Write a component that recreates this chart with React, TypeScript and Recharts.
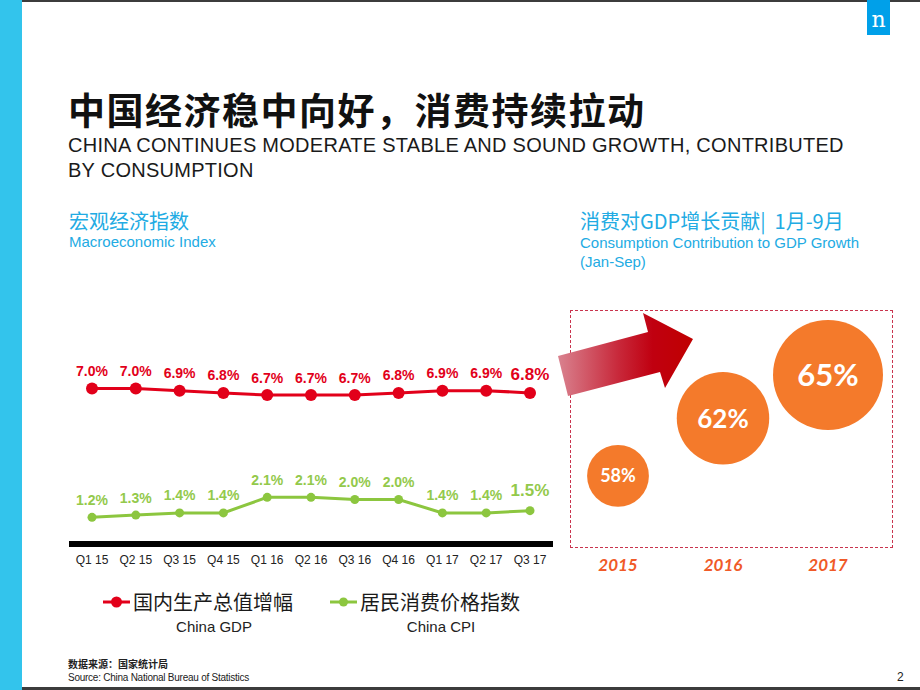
import React from 'react'
import {
  LineChart, Line, XAxis, YAxis, LabelList, ScatterChart, Scatter, ZAxis
} from 'recharts'

const quarters = ['Q1 15', 'Q2 15', 'Q3 15', 'Q4 15', 'Q1 16', 'Q2 16', 'Q3 16', 'Q4 16', 'Q1 17', 'Q2 17', 'Q3 17']
const gdpGrowth = [7.0, 7.0, 6.9, 6.8, 6.7, 6.7, 6.7, 6.8, 6.9, 6.9, 6.8]
const cpiGrowth = [1.2, 1.3, 1.4, 1.4, 2.1, 2.1, 2.0, 2.0, 1.4, 1.4, 1.5]

const years = [2015, 2016, 2017]
const contribution = [58, 62, 65]

const RED = '#e2001a'
const GREEN = '#8cc63f'
const BLUE = '#22abe3'
const ORANGE = '#f47a2b'
const SANS = '"Liberation Sans", Arial, sans-serif'
const CJK = '"Noto Sans CJK SC", sans-serif'

const lineData = quarters.map((q, i) => ({ q, gdp: gdpGrowth[i], cpi: cpiGrowth[i] }))
const bubbleData = years.map((year, i) => ({ year, value: contribution[i] }))

const box = (p: any) => {
  const vb = p.viewBox || p
  return { x: vb.x + (vb.width || 0) / 2, y: vb.y + (vb.height || 0) / 2 }
}

const pointLabel = (color: string, lift: number, liftLast: number) => (props: any) => {
  const { x, y } = box(props)
  const last = props.index === quarters.length - 1
  return (
    <text x={x} y={y - (last ? liftLast : lift)} textAnchor="middle" fill={color}
      fontSize={last ? 17 : 14} fontWeight="bold" fontFamily={SANS}>
      {Number(props.value).toFixed(1)}%
    </text>
  )
}

const bubbleLabel = (props: any) => {
  const vb = props.viewBox || props
  const { x, y } = box(props)
  const fs = Math.round((vb.width || 60) * 0.285)
  return (
    <text x={x} y={y} dy={fs * 0.36} textAnchor="middle" fill="#fff"
      fontSize={fs} fontWeight="bold" fontFamily="Lato, sans-serif">
      {props.value}%
    </text>
  )
}

const LegendItem = ({ color, zh, en, left }: { color: string; zh: string; en: string; left: number }) => (
  <div style={{ position: 'absolute', left, top: 588, width: 200 }}>
    <svg width={28} height={28} style={{ position: 'absolute', left: 0, top: 0 }}>
      <line x1={0} x2={27} y1={14} y2={14} stroke={color} strokeWidth={3} />
      <circle cx={13.5} cy={14} r={color === RED ? 5.5 : 4.5} fill={color} />
    </svg>
    <div style={{ position: 'absolute', left: 30, top: 0, fontFamily: CJK, fontSize: 20, lineHeight: '28px', color: '#1a1a1a', whiteSpace: 'nowrap' }}>{zh}</div>
    <div style={{ position: 'absolute', left: 30, top: 30, width: 162, textAlign: 'center', fontFamily: SANS, fontSize: 15, lineHeight: '18px', color: '#222' }}>{en}</div>
  </div>
)

export default function App() {
  return (
    <div style={{ position: 'absolute', left: 0, top: 0, width: 920, height: 690, background: '#fff', overflow: 'hidden' }}>
      <div style={{ position: 'absolute', left: 0, top: 0, width: 22, height: 690, background: '#33c4ec' }} />
      <div style={{ position: 'absolute', left: 22, top: 0, width: 898, height: 2, background: '#3c3c3c' }} />
      <div style={{ position: 'absolute', left: 22, top: 687, width: 898, height: 3, background: '#3c3c3c' }} />
      <div style={{ position: 'absolute', left: 867, top: 0, width: 23, height: 35, background: '#00a0e9', color: '#fff', fontFamily: '"DejaVu Serif", serif', fontSize: 22, lineHeight: '40px', textAlign: 'center' }}>n</div>

      <div style={{ position: 'absolute', left: 68, top: 89, fontFamily: CJK, fontWeight: 'bold', fontSize: 37, lineHeight: '40px', letterSpacing: 1.5, color: '#111', whiteSpace: 'nowrap' }}>
        中国经济稳中向好，消费持续拉动
      </div>
      <div style={{ position: 'absolute', left: 68, top: 132.5, fontFamily: SANS, fontSize: 20, lineHeight: '25px', letterSpacing: 0.27, color: '#1a1a1a', whiteSpace: 'nowrap' }}>
        CHINA CONTINUES MODERATE STABLE AND SOUND GROWTH, CONTRIBUTED<br />BY CONSUMPTION
      </div>

      <div style={{ position: 'absolute', left: 69, top: 210, fontFamily: CJK, fontSize: 20, lineHeight: '22px', color: BLUE }}>宏观经济指数</div>
      <div style={{ position: 'absolute', left: 69, top: 233, fontFamily: SANS, fontSize: 15, lineHeight: '18px', color: BLUE }}>Macroeconomic Index</div>
      <div style={{ position: 'absolute', left: 580, top: 210, fontFamily: CJK, fontSize: 20, lineHeight: '22px', color: BLUE, whiteSpace: 'nowrap' }}>消费对GDP增长贡献|&nbsp; 1月-9月</div>
      <div style={{ position: 'absolute', left: 580, top: 233, fontFamily: SANS, fontSize: 15, lineHeight: '19px', color: BLUE, whiteSpace: 'nowrap' }}>
        Consumption Contribution to GDP Growth<br />(Jan-Sep)
      </div>

      <div style={{ position: 'absolute', left: 0, top: 300 }}>
        <LineChart width={570} height={290} data={lineData} margin={{ top: 44, right: 17, left: 69, bottom: 16 }}>
          <XAxis dataKey="q" height={30} interval={0} padding={{ left: 23, right: 23 }}
            axisLine={{ stroke: '#000', strokeWidth: 6 }} tickLine={false} tickMargin={5.5}
            tick={{ fill: '#222', fontSize: 12, fontFamily: SANS }} />
          <YAxis hide domain={[0, 9]} />
          <Line dataKey="gdp" stroke={RED} strokeWidth={3} isAnimationActive={false} activeDot={false}
            dot={{ r: 6, fill: RED, stroke: RED, strokeWidth: 0 }}>
            <LabelList dataKey="gdp" content={pointLabel(RED, 12.5, 13)} />
          </Line>
          <Line dataKey="cpi" stroke={GREEN} strokeWidth={3} isAnimationActive={false} activeDot={false}
            dot={{ r: 4.5, fill: GREEN, stroke: GREEN, strokeWidth: 0 }}>
            <LabelList dataKey="cpi" content={pointLabel('#93c94b', 12.5, 14.5)} />
          </Line>
        </LineChart>
      </div>

      <LegendItem color={RED} zh="国内生产总值增幅" en="China GDP" left={103} />
      <LegendItem color={GREEN} zh="居民消费价格指数" en="China CPI" left={330} />

      <div style={{ position: 'absolute', left: 570, top: 310, width: 323, height: 238, boxSizing: 'border-box', border: '1px dashed #c9344e' }} />

      <div style={{ position: 'absolute', left: 560, top: 300 }}>
        <ScatterChart width={350} height={290} margin={{ top: 10, right: 29.5, left: 5.5, bottom: 12 }}>
          <XAxis type="number" dataKey="year" domain={[2014.5, 2017.5]} ticks={years} height={30}
            axisLine={false} tickLine={false} tickMargin={5}
            tick={{ fill: '#f05a28', fontSize: 17, fontWeight: 'bold', fontStyle: 'italic', fontFamily: 'Lato, sans-serif' }} />
          <YAxis hide type="number" dataKey="value" domain={[53, 69.5]} />
          <ZAxis type="number" dataKey="value" range={[3000, 9500]}
            domain={[Math.min(...contribution), Math.max(...contribution)]} />
          <Scatter data={bubbleData} fill={ORANGE} isAnimationActive={false}>
            <LabelList dataKey="value" content={bubbleLabel} />
          </Scatter>
        </ScatterChart>
      </div>

      <svg width={920} height={690} style={{ position: 'absolute', left: 0, top: 0, pointerEvents: 'none' }}>
        <defs>
          <linearGradient id="arrowFill" x1="0" y1="0" x2="1" y2="0">
            <stop offset="0" stopColor="#d9828f" />
            <stop offset="0.45" stopColor="#c8283a" />
            <stop offset="0.7" stopColor="#c00010" />
            <stop offset="1" stopColor="#c00000" />
          </linearGradient>
        </defs>
        <polygon points="558,356 648,332 643,313 693,339 665,388 660,372 568,396" fill="url(#arrowFill)" />
      </svg>

      <div style={{ position: 'absolute', left: 68, top: 657, fontFamily: CJK, fontWeight: 'bold', fontSize: 10, lineHeight: '13px', color: '#222', whiteSpace: 'nowrap' }}>数据来源：国家统计局</div>
      <div style={{ position: 'absolute', left: 68, top: 672, fontFamily: SANS, fontSize: 10, lineHeight: '12px', letterSpacing: -0.25, color: '#222', whiteSpace: 'nowrap' }}>Source: China National Bureau of Statistics</div>
      <div style={{ position: 'absolute', left: 897, top: 670, fontFamily: SANS, fontSize: 12, color: '#222' }}>2</div>
    </div>
  )
}
